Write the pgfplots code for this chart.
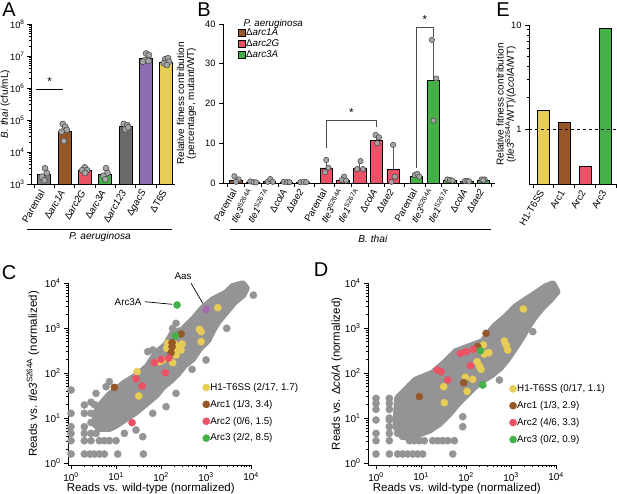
\documentclass[border=0pt]{standalone}
\usepackage{fontspec}
\setmainfont{Liberation Sans}
\setsansfont{Liberation Sans}
\usepackage{pgfplots}
\pgfplotsset{compat=1.18}

\definecolor{cgray}{RGB}{148,148,150}
\definecolor{cyellow}{RGB}{231,205,85}
\definecolor{cbrown}{RGB}{150,88,40}
\definecolor{cpink}{RGB}{235,82,102}
\definecolor{cgreen}{RGB}{70,176,72}
\definecolor{cpurple}{RGB}{140,110,176}
\definecolor{caas}{RGB}{168,104,172}
\definecolor{cdark}{RGB}{105,105,105}
\definecolor{cpar}{RGB}{128,128,128}
\definecolor{cdot}{RGB}{165,165,165}

\newcommand{\tk}{\fontsize{9.6}{11}\selectfont}
\newcommand{\tkb}{\fontsize{10}{11}\selectfont}
\newcommand{\lb}{\fontsize{11.5}{12.5}\selectfont}
\newcommand{\lbs}{\fontsize{10}{10.2}\selectfont}
\newcommand{\lgd}{\fontsize{9.8}{11}\selectfont}

\pgfplotsset{
  prism/.style={
    scale only axis,
    anchor=south west,
    axis lines*=left,
    axis line style={-, line width=0.7pt},
    tick align=outside,
    major tick length=4pt,
    minor tick length=2.2pt,
    tick style={black, line width=0.6pt},
    tick label style={font=\tk},
    label style={font=\lb},
    /pgf/number format/assume math mode=true,
    clip=false,
  },
  bar/.style={ybar, bar shift=0pt, draw=black, line width=0.6pt, fill=#1},
  sqlegend/.style={legend image code/.code={\draw[##1,/tikz/.cd] (0pt,-3.5pt) rectangle (7pt,3.5pt);}},
  dots/.style={only marks, mark=*, mark size=#1, mark options={fill=cdot, draw=black!75, line width=0.5pt}, forget plot},
  cloud/.style={only marks, mark=*, mark size=3.6pt, mark options={fill=#1, draw=#1}},
  dotlegend/.style={legend image code/.code={\draw[##1] plot coordinates {(0pt,0pt)};}},
  ylab/.style={ylabel style={at={(axis description cs:#1,0.5)}, anchor=center, align=center}},
  dotleg/.style={legend style={at={#1}, anchor=north west, draw=none, fill=none,
    inner sep=0pt, font=\lgd, row sep=7.3pt, nodes={inner sep=0.5pt},
    /tikz/every even column/.append style={column sep=3.5pt}}, legend cell align=left},
}

\begin{document}
\begin{tikzpicture}
\useasboundingbox (0,0) rectangle (617pt,494pt);

% ---------------- A ----------------
\begin{axis}[prism, at={(31pt,310pt)}, width=144pt, height=160pt,
  ymode=log, log origin y=infty, ymin=1e3, ymax=1e8,
  xmin=-0.64, xmax=6.44,
  ytick={1e3,1e4,1e5,1e6,1e7,1e8},
  yticklabels={10\textsuperscript{3},10\textsuperscript{4},10\textsuperscript{5},10\textsuperscript{6},10\textsuperscript{7},10\textsuperscript{8}},
  yticklabel style={font=\fontsize{9.2}{10}\selectfont, xshift=1pt},
  xtick={-0.5,0.5,1.5,2.5,3.5,4.5,5.5}, xticklabels={},
  extra x ticks={0,1,2,3,4,5,6},
  extra x tick labels={Parental,Δ\textit{arc1A},Δ\textit{arc2G},Δ\textit{arc3A},Δ\textit{arc123},Δ\textit{gacS},ΔT6S},
  extra x tick style={tick style={draw=none}},
  xticklabel style={rotate=60, anchor=east},
  ylabel={\textit{B. thai} (cfu/mL)}, ylab=-0.178,
  ylabel style={font=\fontsize{10}{11}\selectfont},
]
\addplot[bar=cpar, bar width=13pt] coordinates {(0,2000)};
\addplot[bar=cbrown, bar width=13pt] coordinates {(1,43000)};
\addplot[bar=cpink, bar width=13pt] coordinates {(2,2600)};
\addplot[bar=cgreen, bar width=13pt] coordinates {(3,2000)};
\addplot[bar=cdark, bar width=13pt] coordinates {(4,65000)};
\addplot[bar=cpurple, bar width=13pt] coordinates {(5,8.3e6)};
\addplot[bar=cyellow, bar width=13pt] coordinates {(6,6.2e6)};
\addplot[dots=3pt] coordinates {
 (0.05,3100) (0.14,2200) (-0.1,1700) (0.02,1300)
 (0.92,75000) (1.04,62000) (1.12,49000) (0.86,43000) (0.98,22000)
 (2.0,3300) (1.88,2700) (2.12,2700) (2.02,2200)
 (3.05,3100) (3.12,2200) (2.92,1800) (3.02,1400)
 (3.92,75000) (4.1,69000) (4.0,51000) (4.14,59000)
 (5.02,1.2e7) (5.16,1.07e7) (4.98,7.5e6) (4.86,6.6e6) (5.14,7.0e6)
 (5.95,7.9e6) (6.1,8.5e6) (6.14,6.6e6) (5.9,5.9e6) (6.04,5.2e6)
};
\draw[line width=0.6pt] (axis cs:-0.39,9.3e5) -- (axis cs:0.93,9.3e5);
\node[font=\lb] at (axis cs:0.27,1.6e6) {*};
\end{axis}
\draw[line width=0.6pt] (27pt,265pt) -- (172pt,265pt);
\node[font=\fontsize{10.2}{11}\selectfont] at (100pt,257pt) {\textit{P. aeruginosa}};

% ---------------- B ----------------
\begin{axis}[prism, at={(223pt,311pt)}, width=272pt, height=159pt,
  ymin=0, ymax=40, ytick={0,10,20,30,40},
  yticklabel style={font=\fontsize{9.2}{10}\selectfont},
  xmin=-0.78, xmax=15.5,
  xtick={-0.5,0.5,1.5,2.5,3.5,4.7,5.9,6.9,7.9,8.9,10.1,11.3,12.3,13.3,14.3,15.3}, xticklabels={},
  extra x ticks={0,1,2,3,4,5.4,6.4,7.4,8.4,9.4,10.8,11.8,12.8,13.8,14.8},
  extra x tick labels={Parental,\textit{tle3}\textsuperscript{S264A},\textit{tle1}\textsuperscript{S267A},Δ\textit{colA},Δ\textit{tae2},
    Parental,\textit{tle3}\textsuperscript{S264A},\textit{tle1}\textsuperscript{S267A},Δ\textit{colA},Δ\textit{tae2},
    Parental,\textit{tle3}\textsuperscript{S264A},\textit{tle1}\textsuperscript{S267A},Δ\textit{colA},Δ\textit{tae2}},
  extra x tick style={tick style={draw=none}},
  xticklabel style={rotate=60, anchor=east},
  ylabel={Relative fitness contribution\\(percentage, mutant/WT)}, ylab=-0.134,
  ylabel style={font=\lbs},
  legend style={at={(axis cs:0.1,38.9)}, anchor=north west, draw=none, fill=none,
    inner sep=0pt, font=\lgd, row sep=1.5pt, nodes={inner sep=0.5pt},
    /tikz/every even column/.append style={column sep=3pt}},
  legend cell align=left,
]
\addplot[bar=cbrown, bar width=12.5pt, sqlegend] coordinates {(0,0.6) (1,0.25) (2,0.45) (3,0.25) (4,0.25)};
\addlegendentry{Δ\textit{arc1A}}
\addplot[bar=cpink, bar width=12.5pt, sqlegend,
  error bars/.cd, y dir=plus, y explicit,
  error bar style={black!65, line width=0.6pt}, error mark options={mark size=2pt, black!65}]
  coordinates {(5.4,3.8) +- (0,1.6) (6.4,0.8) +- (0,0.5) (7.4,3.8) +- (0,1.0) (8.4,10.7) +- (0,1.1) (9.4,3.5) +- (0,6.1)};
\addlegendentry{Δ\textit{arc2G}}
\addplot[bar=cgreen, bar width=12.5pt, sqlegend,
  error bars/.cd, y dir=plus, y explicit,
  error bar style={black!65, line width=0.6pt}, error mark options={mark size=2pt, black!65}]
  coordinates {(10.8,1.6) +- (0,0.3) (11.8,25.8) +- (0,10.2) (12.8,0.6) +- (0,0.2) (13.8,0.4) +- (0,0.1) (14.8,0.6) +- (0,0.2)};
\addlegendentry{Δ\textit{arc3A}}
\addplot[dots=2.7pt] coordinates {
 (-0.1,1.7) (0.15,0.9) (0.0,0.3)
 (0.85,0.4) (1.05,0.2) (1.2,0.15)
 (1.9,0.3) (2.05,1.0) (2.2,0.3)
 (2.85,0.3) (3.05,0.2) (3.2,0.2)
 (3.85,0.2) (4.05,0.3) (4.2,0.2)
 (5.4,5.8) (5.53,3.85) (5.33,2.7)
 (6.47,1.6) (6.33,0.75) (6.59,0.6)
 (7.45,5.5) (7.25,3.5) (7.6,3.5)
 (8.35,12.1) (8.55,11.5) (8.45,10.0)
 (9.4,9.6) (9.5,1.6) (9.3,0.3)
 (10.7,2.0) (10.85,2.3) (10.97,1.6)
 (11.72,36.0) (11.98,26.3) (11.82,15.7)
 (12.65,0.9) (12.8,0.75) (12.95,0.6)
 (13.7,0.5) (13.85,0.5) (13.95,0.4)
 (14.7,0.9) (14.88,0.9) (14.8,0.7)
};
\draw[line width=0.6pt, black!70] (axis cs:5.4,8.8) |- (axis cs:8.4,15.8) -- (axis cs:8.4,14.2);
\node[font=\lb] at (axis cs:6.9,17.6) {*};
\draw[line width=0.6pt, black!70] (axis cs:10.8,3.8) |- (axis cs:11.8,39.2) -- (axis cs:11.8,36.8);
\node[font=\lb] at (axis cs:11.3,41.0) {*};
\node[font=\lgd, anchor=west] at (axis cs:0.25,40) {\textit{P. aeruginosa}};
\end{axis}
\draw[line width=0.6pt] (230pt,265pt) -- (491pt,265pt);
\node[font=\fontsize{10.2}{11}\selectfont] at (373pt,255pt) {\textit{B. thai}};

% ---------------- E ----------------
\begin{axis}[prism, at={(529pt,310pt)}, width=88pt, height=159pt,
  ymode=log, log origin y=infty, ymin=0.296, ymax=10,
  ytick={1,10}, yticklabels={1,10},
  yticklabel style={font=\fontsize{9.2}{10}\selectfont},
  xmin=-0.69, xmax=3.54,
  xtick={-0.5,0.5,1.5,2.5,3.5}, xticklabels={},
  extra x ticks={0,1,2,3}, extra x tick labels={H1-T6SS,Arc1,Arc2,Arc3},
  extra x tick style={tick style={draw=none}},
  xticklabel style={rotate=60, anchor=east},
  ylabel={Relative fitness contribution\\(\textit{tle3}\textsuperscript{S264A}/WT)/(Δ\textit{colA}/WT)}, ylab=-0.26,
  ylabel style={font=\lbs},
]
\addplot[bar=cyellow, bar width=12pt] coordinates {(0,1.52)};
\addplot[bar=cbrown, bar width=12pt] coordinates {(1,1.15)};
\addplot[bar=cpink, bar width=12pt] coordinates {(2,0.44)};
\addplot[bar=cgreen, bar width=12pt] coordinates {(3,9.3)};
\addplot[black, dashed, line width=0.9pt, forget plot] coordinates {(-0.69,1) (3.54,1)};
\end{axis}

% ---------------- C ----------------
\begin{axis}[prism, at={(68pt,29pt)}, width=184pt, height=182pt,
  xmin=-0.067, xmax=4.02, ymin=-0.044, ymax=4.0,
  xtick={0,1,2,3,4}, ytick={0,1,2,3,4},
  tick label style={font=\tkb},
  xticklabels={10\textsuperscript{0},10\textsuperscript{1},10\textsuperscript{2},10\textsuperscript{3},10\textsuperscript{4}},
  yticklabels={10\textsuperscript{0},10\textsuperscript{1},10\textsuperscript{2},10\textsuperscript{3},10\textsuperscript{4}},
  minor xtick={0.301,0.477,0.602,0.699,0.778,0.845,0.903,0.954,1.301,1.477,1.602,1.699,1.778,1.845,1.903,1.954,2.301,2.477,2.602,2.699,2.778,2.845,2.903,2.954,3.301,3.477,3.602,3.699,3.778,3.845,3.903,3.954},
  minor ytick={0.301,0.477,0.602,0.699,0.778,0.845,0.903,0.954,1.301,1.477,1.602,1.699,1.778,1.845,1.903,1.954,2.301,2.477,2.602,2.699,2.778,2.845,2.903,2.954,3.301,3.477,3.602,3.699,3.778,3.845,3.903,3.954},
  xlabel={Reads vs. wild-type (normalized)},
  xlabel style={at={(axis description cs:0.45,-0.13)}, anchor=center},
  ylabel={Reads vs. \textit{tle3}\textsuperscript{S264A} (normalized)}, ylab=-0.19,
  dotleg={(axis cs:2.92,1.79)},
]
\addplot[fill=cgray, draw=cgray, line width=7.2pt, line join=round, forget plot] coordinates {
 (0.519,0.881) (0.593,1.215) (0.852,1.511) (1.185,1.770) (1.481,1.956) (1.704,2.141)
 (1.889,2.437) (2.111,2.622) (2.259,2.881) (2.481,2.956) (2.741,3.215) (2.926,3.437)
 (3.148,3.622) (3.444,3.770) (3.593,3.919) (3.815,3.978) (3.889,3.881) (3.815,3.733)
 (3.630,3.585) (3.444,3.363) (3.259,3.141) (3.148,2.956) (3.037,2.733) (2.852,2.548)
 (2.704,2.326) (2.519,2.178) (2.370,1.993) (2.222,1.844) (2.037,1.696) (1.889,1.511)
 (1.667,1.326) (1.444,1.141) (1.222,0.993) (1.000,0.844) (0.852,0.770) (0.630,0.770)
} -- cycle;
\addplot[cloud=cgray, forget plot] coordinates {
 (0,0.2) (0.296,0.2) (0.422,0.2) (0.519,0.2) (0.630,0.2) (0.741,0.2) (1.037,0.2) (1.607,0.2)
 (0,0.496) (0.296,0.496) (0.444,0.496) (0.630,0.496) (0.741,0.496) (0.852,0.496) (1.0,0.496)
 (0,0.659) (0.296,0.659) (0.444,0.659) (0.556,0.659)
 (0,0.807) (0.296,0.807) (0,1.104) (0.296,1.104) (0.444,1.104)
 (0.296,1.289) (0,1.622) (0.556,1.548) (0.852,1.807) (0.778,1.696)
 (0.444,0.9) (0.444,1.35) (0.519,1.3)
 (1.444,0.733) (1.593,0.585) (1.185,0.659) (1.815,1.104) (2.111,1.252) (2.333,1.548)
 (2.689,2.081) (3.0,2.289) (3.459,2.993) (4.05,3.73) (2.422,2.067)
 (1.815,2.511) (2.259,2.993) (2.333,3.104) (1.704,2.474)
};
\addplot[cloud=cyellow, dotlegend] coordinates {
 (3.259,3.452) (2.852,2.970) (2.889,2.919) (2.889,2.696) (2.148,2.659) (2.296,2.644)
 (2.467,2.644) (2.444,2.511) (2.274,2.474) (2.333,2.400) (2.037,2.289) (1.963,2.252)
 (2.259,2.230) (1.467,2.030) (1.504,1.489) (2.356,2.585) (2.126,2.548)
};
\addlegendentry{H1-T6SS (2/17, 1.7)}
\addplot[cloud=cbrown, dotlegend] coordinates {
 (2.444,2.867) (2.244,2.674) (2.244,2.585) (2.222,2.452) (0.963,1.681)
};
\addlegendentry{Arc1 (1/3, 3.4)}
\addplot[cloud=cpink, dotlegend] coordinates {
 (1.852,2.230) (2.0,2.304) (2.170,2.333) (2.096,2.007) (1.444,1.874) (1.578,1.711) (1.356,0.896)
};
\addlegendentry{Arc2 (0/6, 1.5)}
\addplot[cloud=cgreen, dotlegend] coordinates {(2.356,3.511) (2.319,2.822)};
\addlegendentry{Arc3 (2/2, 8.5)}
\addplot[cloud=caas, forget plot] coordinates {(3.0,3.415)};
\draw[line width=0.7pt] (axis cs:1.644,3.584) -- (axis cs:2.244,3.527);
\node[font=\lgd] at (axis cs:1.267,3.578) {Arc3A};
\draw[line width=0.7pt] (axis cs:2.667,3.993) -- (axis cs:2.927,3.549);
\node[font=\lgd] at (axis cs:2.489,4.156) {Aas};
\end{axis}

% ---------------- D ----------------
\begin{axis}[prism, at={(368pt,29pt)}, width=189pt, height=182pt,
  xmin=-0.178, xmax=4.02, ymin=-0.044, ymax=4.0,
  xtick={0,1,2,3,4}, ytick={0,1,2,3,4},
  tick label style={font=\tkb},
  xticklabels={10\textsuperscript{0},10\textsuperscript{1},10\textsuperscript{2},10\textsuperscript{3},10\textsuperscript{4}},
  yticklabels={10\textsuperscript{0},10\textsuperscript{1},10\textsuperscript{2},10\textsuperscript{3},10\textsuperscript{4}},
  minor xtick={0.301,0.477,0.602,0.699,0.778,0.845,0.903,0.954,1.301,1.477,1.602,1.699,1.778,1.845,1.903,1.954,2.301,2.477,2.602,2.699,2.778,2.845,2.903,2.954,3.301,3.477,3.602,3.699,3.778,3.845,3.903,3.954},
  minor ytick={0.301,0.477,0.602,0.699,0.778,0.845,0.903,0.954,1.301,1.477,1.602,1.699,1.778,1.845,1.903,1.954,2.301,2.477,2.602,2.699,2.778,2.845,2.903,2.954,3.301,3.477,3.602,3.699,3.778,3.845,3.903,3.954},
  xlabel={Reads vs. wild-type (normalized)},
  xlabel style={at={(axis description cs:0.47,-0.13)}, anchor=center},
  ylabel={Reads vs. Δ\textit{colA} (normalized)}, ylab=-0.165,
  dotleg={(axis cs:2.96,1.76)},
]
\addplot[fill=cgray, draw=cgray, line width=7.2pt, line join=round, forget plot] coordinates {
 (0.481,1.437) (0.889,1.844) (1.259,1.993) (1.556,2.252) (1.778,2.474) (2.074,2.585)
 (2.370,2.696) (2.630,3.030) (2.889,3.252) (3.111,3.474) (3.333,3.622) (3.556,3.770)
 (3.778,3.919) (3.926,3.978) (4.015,3.807) (3.889,3.659) (3.704,3.474) (3.519,3.252)
 (3.370,3.030) (3.222,2.770) (3.074,2.548) (2.926,2.326) (2.741,2.104) (2.556,1.956)
 (2.370,1.844) (2.185,1.696) (2.000,1.511) (1.815,1.326) (1.630,1.104) (1.407,0.881)
 (1.185,0.733) (0.889,0.622) (0.593,0.585) (0.444,0.807)
} -- cycle;
\addplot[cloud=cgray, forget plot] coordinates {
 (0,0.2) (0.296,0.2) (0.481,0.2) (0.593,0.2) (0.704,0.2) (0.815,0.2) (0.926,0.2) (1.037,0.2) (1.704,0.2)
 (0,0.496) (0.296,0.496) (0.741,0.496) (0.852,0.496) (0.963,0.496) (1.074,0.496) (1.259,0.496)
 (1.370,0.496) (1.481,0.496) (1.593,0.496) (1.741,0.496)
 (0,0.659) (0.296,0.659) (0.481,0.659)
 (0,0.956) (0.296,0.956) (0,1.193) (0.296,1.193) (0,1.326) (0.296,1.326) (0,1.437) (0.296,1.437)
 (0.296,0.807) (0.296,1.0)
 (1.926,0.807) (1.926,1.030) (0.926,1.844) (0.741,1.7) (3.481,2.919) (2.741,1.844) (1.593,2.252)
};
\addplot[cloud=cyellow, dotlegend] coordinates {
 (3.274,3.422) (2.852,2.711) (2.889,2.622) (2.926,2.511) (2.385,2.622) (2.504,2.452)
 (2.407,2.422) (2.244,2.252) (2.296,2.156) (2.333,2.081) (2.148,1.859) (2.022,1.593)
 (1.504,1.696) (1.985,1.904) (1.519,1.341)
};
\addlegendentry{H1-T6SS (0/17, 1.1)}
\addplot[cloud=cbrown, dotlegend] coordinates {
 (2.444,2.881) (2.259,2.585) (1.948,1.785) (0.963,1.474)
};
\addlegendentry{Arc1 (1/3, 2.9)}
\addplot[cloud=cpink, dotlegend] coordinates {
 (1.874,2.437) (2.0,2.474) (2.163,2.526) (1.356,2.067) (1.444,2.030) (1.593,1.844) (2.096,2.163)
};
\addlegendentry{Arc2 (4/6, 3.3)}
\addplot[cloud=cgreen, dotlegend] coordinates {(2.319,2.496) (2.370,1.733)};
\addlegendentry{Arc3 (0/2, 0.9)}
\end{axis}

% panel letters
\node[font=\fontsize{20}{22}\selectfont] at (9pt,484pt) {A};
\node[font=\fontsize{20}{22}\selectfont] at (204pt,484pt) {B};
\node[font=\fontsize{20}{22}\selectfont] at (503pt,484pt) {E};
\node[font=\fontsize{20}{22}\selectfont] at (9pt,221pt) {C};
\node[font=\fontsize{20}{22}\selectfont] at (321pt,224pt) {D};
\end{tikzpicture}
\end{document}
